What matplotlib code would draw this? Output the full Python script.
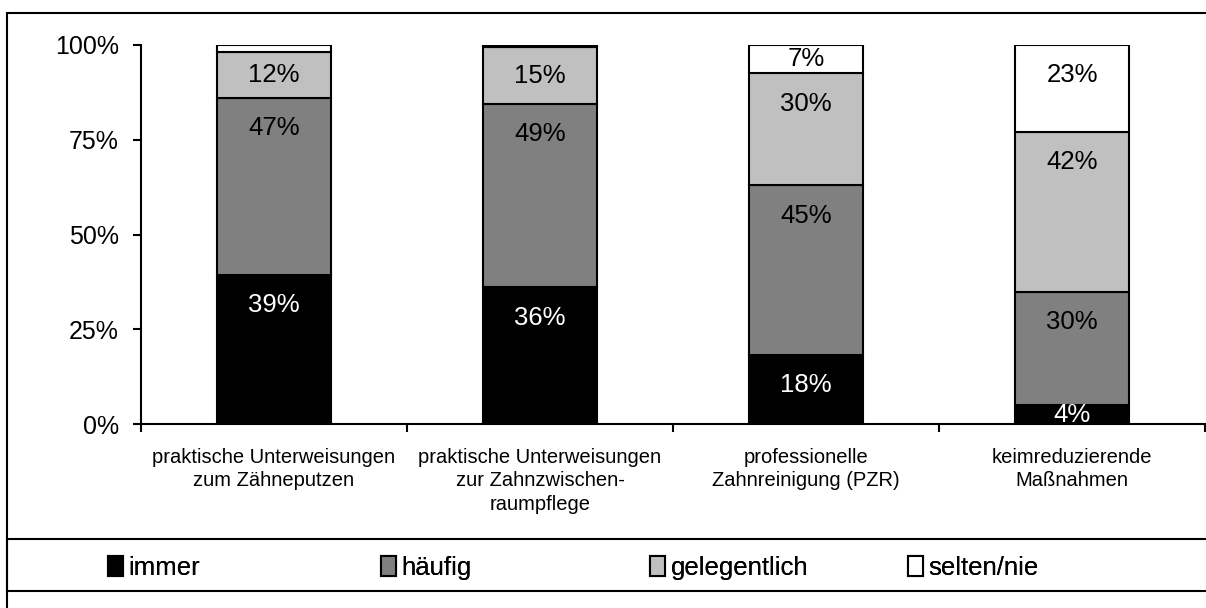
import matplotlib.pyplot as plt
import matplotlib as mpl
from matplotlib.patches import Rectangle
import numpy as np

mpl.rcParams.update({"font.family": ["Liberation Sans", "DejaVu Sans"], "font.size": 18})

categories = ["praktische Unterweisungen\nzum Zähneputzen",
              "praktische Unterweisungen\nzur Zahnzwischen-\nraumpflege",
              "professionelle\nZahnreinigung (PZR)",
              "keimreduzierende\nMaßnahmen"]
series = ["immer", "häufig", "gelegentlich", "selten/nie"]
immer = [39.3, 36.1, 18.2, 5.0]
haeufig = [46.8, 48.3, 44.8, 29.9]
gelegentlich = [12.1, 15.1, 29.5, 42.2]
selten = [1.8, 0.5, 7.5, 22.9]
lab_immer = ["39%", "36%", "18%", "4%"]
lab_haeufig = ["47%", "49%", "45%", "30%"]
lab_gelegentlich = ["12%", "15%", "30%", "42%"]
lab_selten = ["", "", "7%", "23%"]
colors = ["black", "#808080", "#c0c0c0", "white"]
text_colors = ["white", "black", "black", "black"]

fig = plt.figure(figsize=(12.06, 6.08), dpi=100)
ax = fig.add_axes([141 / 1206, 1 - 424 / 608, 1064 / 1206, 379 / 608])

x = np.arange(len(categories))
bottom = np.zeros(len(categories))
handles = []
for vals, labs, c, tc, name in zip([immer, haeufig, gelegentlich, selten],
                                   [lab_immer, lab_haeufig, lab_gelegentlich, lab_selten],
                                   colors, text_colors, series):
    vals = np.array(vals)
    b = ax.bar(x, vals, 0.43, bottom=bottom, color=c, edgecolor="black",
               linewidth=1.5, label=name)
    handles.append(b)
    for xi, v, bt, lab in zip(x, vals, bottom, labs):
        if lab:
            y = max(bt + v / 2, bt + v - 8)
            ax.text(xi, y, lab, ha="center", va="center", color=tc, fontsize=18.5)
    bottom += vals

ax.set_xlim(-0.5, 3.5)
ax.set_ylim(0, 100)
ax.set_yticks([0, 25, 50, 75, 100])
ax.set_yticklabels(["0%", "25%", "50%", "75%", "100%"])
ax.set_xticks(x)
ax.set_xticklabels(categories, fontsize=14.5, linespacing=1.3)
ax.set_xticks(np.arange(-0.5, 4.0, 1.0), minor=True)
ax.tick_params(axis="x", which="major", length=0, pad=17)
ax.tick_params(axis="x", which="minor", length=6, width=1.5)
ax.tick_params(axis="y", length=6, width=1.5, pad=10)
for s in ["top", "right"]:
    ax.spines[s].set_visible(False)
for s in ["left", "bottom"]:
    ax.spines[s].set_linewidth(1.5)
ax.spines["bottom"].set_zorder(0.5)

# outer frame and legend box
fig.patches.append(Rectangle((7 / 1206, -0.1), 1.2, 1 - 13 / 608 + 0.1, transform=fig.transFigure,
                             fill=False, edgecolor="black", linewidth=1.5))
fig.patches.append(Rectangle((7 / 1206, 1 - 591 / 608), 1.2, 52 / 608, transform=fig.transFigure,
                             fill=False, edgecolor="black", linewidth=1.5))

# legend entries placed in their own columns
for h, name, px in zip(handles, series, [108, 381, 650, 908]):
    leg = fig.legend(handles=[h], labels=[name], frameon=False,
                     loc="center left", bbox_to_anchor=(px / 1206, 1 - 568 / 608),
                     fontsize=18.5, handlelength=0.6, handleheight=0.8, handletextpad=0.2,
                     borderaxespad=0, borderpad=0)
    fig.add_artist(leg)

plt.savefig("out.png", dpi=100)
